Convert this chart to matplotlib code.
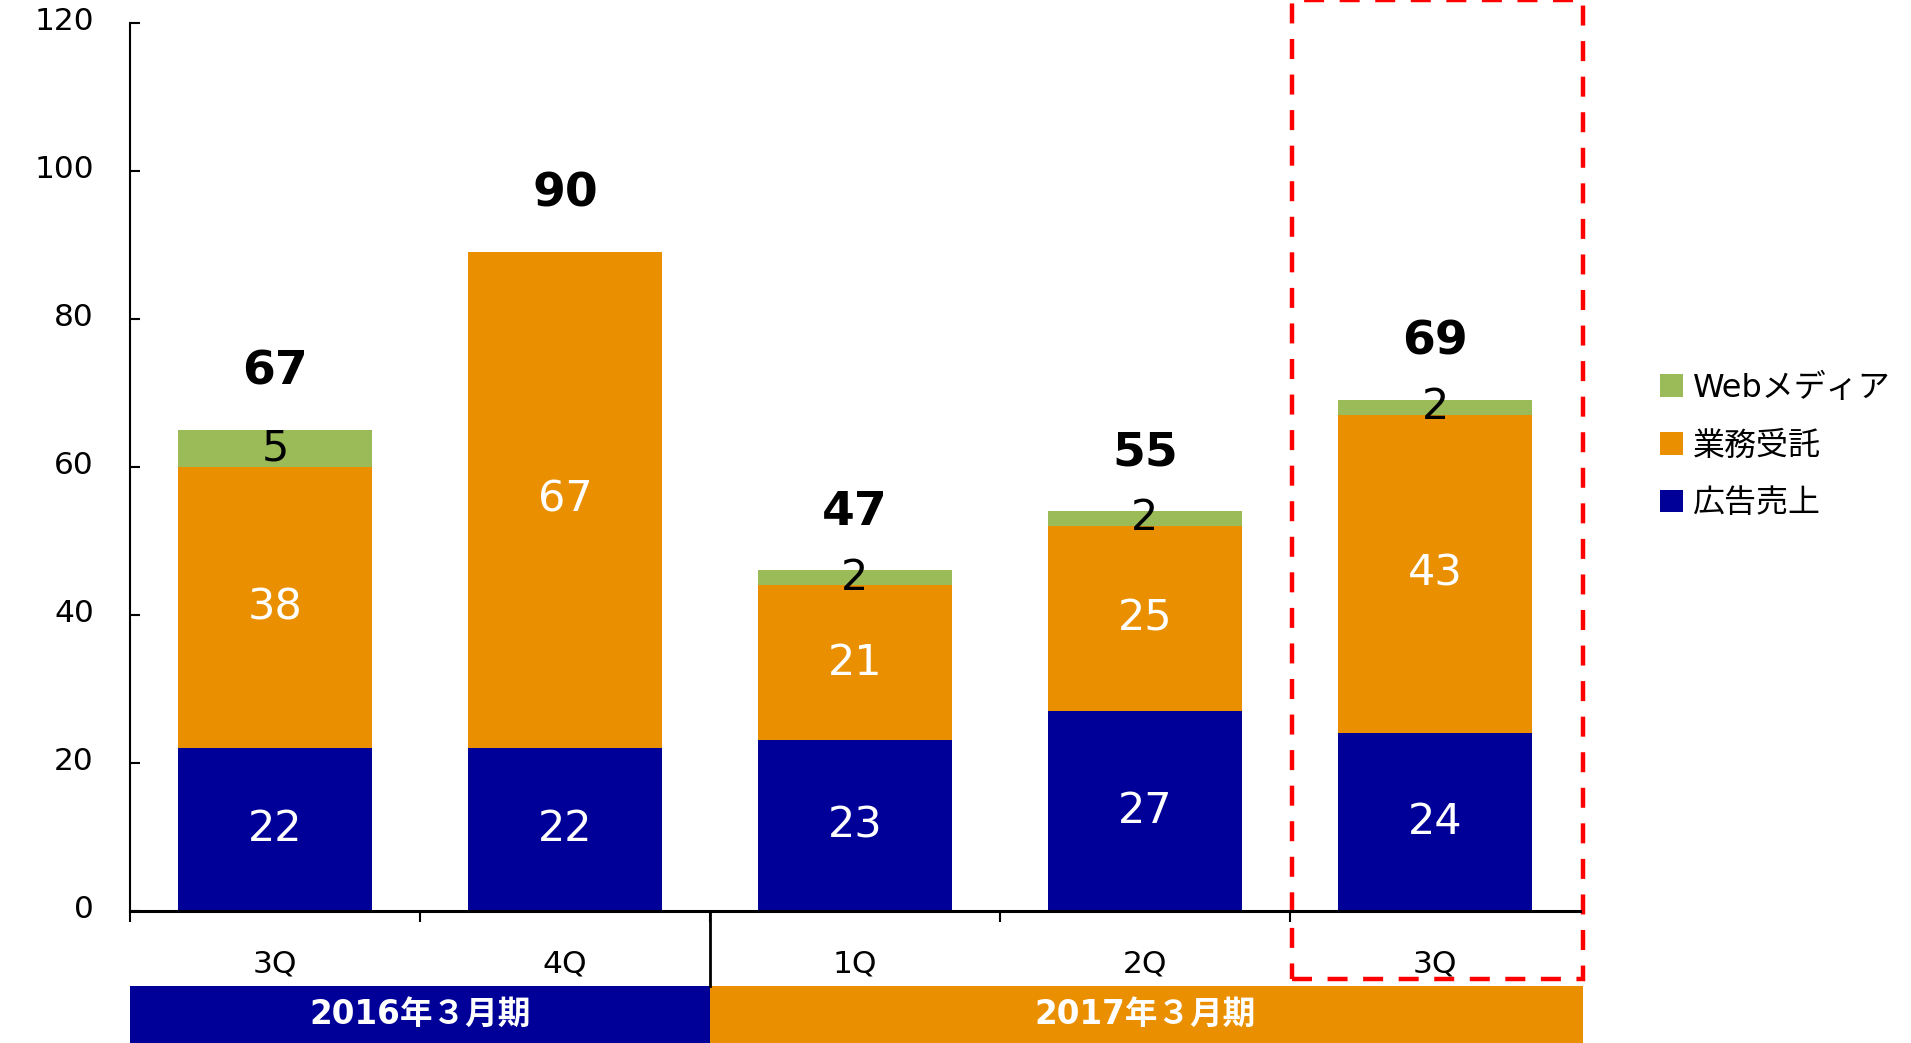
import numpy as np
import matplotlib
matplotlib.use("Agg")
import matplotlib.pyplot as plt
from matplotlib.patches import Rectangle
import matplotlib.transforms as mtransforms

plt.rcParams['font.family'] = ['DejaVu Sans', 'Noto Sans CJK JP']

# data
quarters = ['3Q', '4Q', '1Q', '2Q', '3Q']
ad_sales = [22, 22, 23, 27, 24]        # 広告売上
contract = [38, 67, 21, 25, 43]        # 業務受託
web_media = [5, 0, 2, 2, 2]            # Webメディア
totals = [67, 90, 47, 55, 69]

periods = ['2016年３月期', '2017年３月期']
period_start = [-0.5, 1.5]
period_end = [1.5, 4.51]

series_names = ['広告売上', '業務受託', 'Webメディア']
c_blue = '#000099'
c_orange = '#EA9000'
c_green = '#9BBB59'

fig = plt.figure(figsize=(19.11, 10.43), dpi=100)
ax = fig.add_axes([0.068, 0.1269, 0.7588, 0.8513])

x = np.arange(len(quarters))
w = 0.67
ad = np.array(ad_sales)
ct = np.array(contract)
wb = np.array(web_media)

ax.bar(x, ad, w, color=c_blue, label=series_names[0])
ax.bar(x, ct, w, bottom=ad, color=c_orange, label=series_names[1])
ax.bar(x, wb, w, bottom=ad + ct, color=c_green, label=series_names[2])

# segment labels
for i in range(len(x)):
    ax.text(x[i], ad[i] / 2, str(ad[i]), ha='center', va='center',
            color='white', fontsize=31)
    ax.text(x[i], ad[i] + ct[i] / 2, str(ct[i]), ha='center', va='center',
            color='white', fontsize=31)
    if wb[i] > 0:
        ax.text(x[i], ad[i] + ct[i] + wb[i] / 2, str(wb[i]), ha='center',
                va='center', color='black', fontsize=31)
    top = ad[i] + ct[i] + wb[i]
    ax.text(x[i], top + 7.8, str(totals[i]), ha='center', va='center',
            color='black', fontsize=34, fontweight='bold')

ax.set_xlim(-0.5, 4.5)
ax.set_ylim(0, 120)
ax.set_yticks(np.arange(0, 121, 20))
ax.tick_params(axis='y', direction='in', length=7, width=1.5, labelsize=22.5, pad=26)
shift = mtransforms.ScaledTranslation(0, 3 / 72, fig.dpi_scale_trans)
for lab in ax.get_yticklabels():
    lab.set_transform(lab.get_transform() + shift)
ax.set_xticks(x)
ax.set_xticklabels(quarters)
ax.tick_params(axis='x', which='major', length=0, labelsize=22.5, pad=28)
ax.set_xticks(np.arange(-0.5, 4.0, 1.0), minor=True)
ax.tick_params(axis='x', which='minor', direction='out', length=8, width=1.5)

for s in ['top', 'right']:
    ax.spines[s].set_visible(False)
ax.spines['left'].set_linewidth(1.5)
ax.spines['bottom'].set_linewidth(2.2)

# period band under the axis
trans = mtransforms.blended_transform_factory(ax.transData, ax.transAxes)
band_colors = [c_blue, c_orange]
for i in range(len(periods)):
    ax.add_patch(Rectangle((period_start[i], -0.149), period_end[i] - period_start[i],
                           0.0642, transform=trans, color=band_colors[i],
                           clip_on=False, lw=0))
    ax.text((period_start[i] + min(period_end[i], 4.5)) / 2, -0.117, periods[i],
            transform=trans, ha='center', va='center', color='white',
            fontsize=23.5, fontweight='bold')

ax.plot([1.5, 1.5], [0, -0.0848], transform=trans, color='black', lw=2, clip_on=False)

# red dashed highlight box
ax.add_patch(Rectangle((3.507, -0.0769), 1.003, 1.103, transform=trans, fill=False,
                       edgecolor='#FF0000', lw=3.2, linestyle=(0, (4.5, 3.5)),
                       clip_on=False))

handles, labels = ax.get_legend_handles_labels()
ax.legend(handles[::-1], labels[::-1], loc='upper left', bbox_to_anchor=(1.055, 0.606),
          frameon=False, fontsize=23, handlelength=0.72, handleheight=0.72,
          handletextpad=0.33, labelspacing=0.84, borderpad=0, borderaxespad=0)

fig.savefig('out.png', dpi=100)
